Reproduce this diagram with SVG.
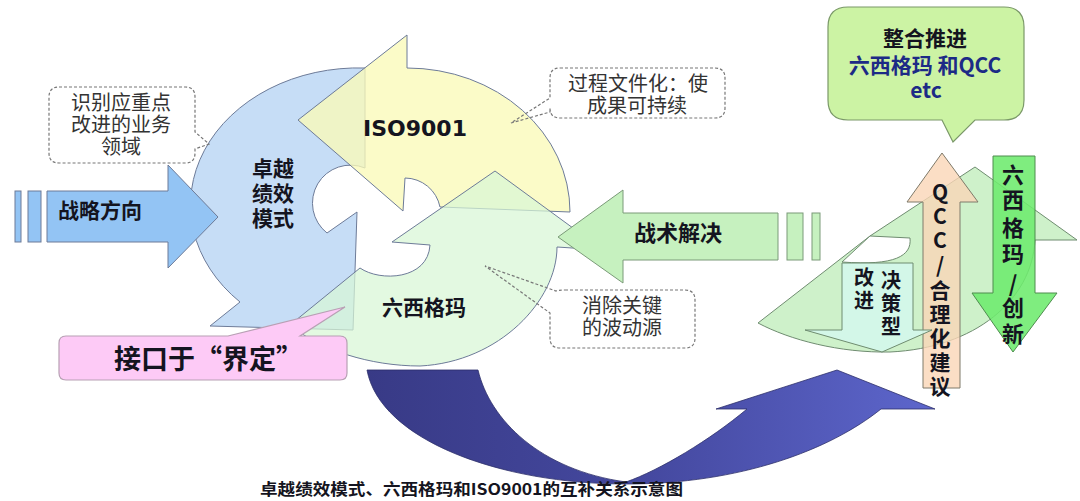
<svg xmlns="http://www.w3.org/2000/svg" width="1080" height="501" viewBox="0 0 1080 501">
<style>
.cjk{font-family:"Noto Sans CJK SC","Noto Sans",sans-serif}
.b{font-weight:bold}
.lbl{font-family:"Noto Sans CJK SC",sans-serif;font-weight:bold;fill:#141420}
.note{font-family:"Noto Sans CJK SC",sans-serif;font-size:20px;fill:#333;text-anchor:middle}
.dash{fill:none;stroke:#777;stroke-width:1.2;stroke-dasharray:3 2}
.edge{stroke:#6d7b98;stroke-width:1}
</style>
<defs>
<linearGradient id="navy" gradientUnits="userSpaceOnUse" x1="367" y1="0" x2="935" y2="0">
<stop offset="0" stop-color="#383a86"/>
<stop offset="0.5" stop-color="#4549a0"/>
<stop offset="1" stop-color="#5d66cc"/>
</linearGradient>
</defs>
<rect width="1080" height="501" fill="#fff"/>

<g id="connectors">
<path id="navy-arrow" d="M 367,370 L 478,370 C 490,420 540,470 626,482 C 660,470 710,440 747,409 L 716,409 L 837,370 L 935,409 L 881,409 C 830,450 740,484 626,484 C 500,484 380,440 367,370 Z" fill="url(#navy)" stroke="#2c2e6a" stroke-width="0.8"/>
</g>

<g id="excellence">
<path d="M 365,68 A 168 137 0 0 0 240,302 L 210,326 L 353,330 L 357,212 L 327,233 A 38 38 0 0 1 365,168 Z" fill="#c6ddf6" class="edge"/>
<text class="lbl" font-size="21" text-anchor="middle"><tspan x="273" y="176">卓越</tspan><tspan x="273" y="201">绩效</tspan><tspan x="273" y="226">模式</tspan></text>
</g>

<g id="iso9001">
<path d="M 298,120 L 407,35 L 407,68 A 163 144 0 0 1 570,212 L 440,207 A 36 36 0 0 0 405,178 L 403,211 Z" fill="#fafab8" fill-opacity="0.78" class="edge"/>
<text x="415" y="136" font-family="DejaVu Sans,sans-serif" font-weight="bold" font-size="22" fill="#141420" text-anchor="middle">ISO9001</text>
</g>

<g id="sixsigma">
<path d="M 392,242 L 495,171 L 603,250 L 557,247 C 557,300 500,362 420,366 C 370,366 320,350 290,325 L 360,268 C 380,282 428,280 430,245 Z" fill="#d8f6d6" fill-opacity="0.72" class="edge"/>
<text x="424" y="315" class="lbl" font-size="21" text-anchor="middle">六西格玛</text>
</g>

<g id="strategy">
<rect x="15" y="191" width="6" height="51" fill="#93c4f4" class="edge"/>
<rect x="28" y="191" width="13" height="51" fill="#93c4f4" class="edge"/>
<path d="M 47,191 L 168,191 L 168,165 L 218,217 L 168,268 L 168,242 L 47,242 Z" fill="#93c4f4" class="edge"/>
<text x="100" y="218" class="lbl" font-size="21" text-anchor="middle">战略方向</text>
</g>

<g id="tactics">
<path d="M 558,237 L 623,190 L 623,213 L 778,213 L 778,260 L 623,260 L 623,283 Z" fill="#c6f1bf" stroke="#7a9a78" stroke-width="1"/>
<rect x="787" y="213" width="16" height="47" fill="#c6f1bf" stroke="#7a9a78" stroke-width="1"/>
<rect x="812" y="213" width="8" height="47" fill="#c6f1bf" stroke="#7a9a78" stroke-width="1"/>
<text x="678" y="241" class="lbl" font-size="22" text-anchor="middle">战术解决</text>
</g>

<g id="note-identify">
<path class="dash" d="M 59,87 H 185 Q 195,87 195,97 V 132 L 209,144 L 195,149 V 153 Q 195,163 185,163 H 59 Q 49,163 49,153 V 97 Q 49,87 59,87 Z"/>
<text class="note"><tspan x="121" y="110">识别应重点</tspan><tspan x="121" y="132">改进的业务</tspan><tspan x="121" y="154">领域</tspan></text>
</g>

<g id="note-process">
<path class="dash" d="M 560,68 H 715 Q 725,68 725,78 V 108 Q 725,118 715,118 H 560 Q 550,118 550,108 V 112 L 511,123 L 550,98 V 78 Q 550,68 560,68 Z"/>
<text class="note"><tspan x="638" y="91">过程文件化：使</tspan><tspan x="637" y="113">成果可持续</tspan></text>
</g>

<g id="note-eliminate">
<path class="dash" d="M 565,290 H 685 Q 695,290 695,300 V 338 Q 695,348 685,348 H 560 Q 550,348 550,338 V 313 L 485,266 L 556,291 Q 558,290 565,290 Z"/>
<text class="note"><tspan x="622" y="313">消除关键</tspan><tspan x="622" y="335">的波动源</tspan></text>
</g>

<g id="note-interface">
<path d="M 66,336 H 228 L 345,307 L 300,336 H 340 Q 347,336 347,343 V 373 Q 347,380 340,380 H 66 Q 59,380 59,373 V 343 Q 59,336 66,336 Z" fill="#fdcaf6" stroke="#b8a0b4" stroke-width="1.2"/>
<text x="114" y="369" class="lbl" font-size="27">接口于“界定”</text>
</g>

<g id="right-cycle">
<path d="M 758,323 L 870,236 L 975,167 L 1077,240 L 1035,240 C 1032,300 975,348 890,352 C 840,353 790,340 758,323 Z" fill="#c6efc1" fill-opacity="0.85" stroke="#6f8c70" stroke-width="1"/>
<path d="M 870,236 L 910,238 C 912,256 895,266 842,262 Z" fill="#fff" stroke="#6f8c70" stroke-width="1"/>
</g>

<g id="qcc-arrow">
<path d="M 942,153 L 978,202 L 960,202 L 960,388 L 923,388 L 923,202 L 907,202 Z" fill="#fad6b6" fill-opacity="0.8" stroke="#7f7a6a" stroke-width="1"/>
<text class="lbl" font-size="21" text-anchor="middle"><tspan x="940" y="200">Q</tspan><tspan x="940" y="224">C</tspan><tspan x="940" y="248">C</tspan><tspan x="940" y="273">/</tspan><tspan x="940" y="298">合</tspan><tspan x="940" y="322">理</tspan><tspan x="940" y="346">化</tspan><tspan x="940" y="370">建</tspan><tspan x="940" y="394">议</tspan></text>
</g>

<g id="sigma-innovation-arrow">
<path d="M 993,156 L 1035,156 L 1035,293 L 1057,293 L 1013,352 L 972,293 L 993,293 Z" fill="#6dea6d" fill-opacity="0.88" stroke="#4f8c4f" stroke-width="1"/>
<text class="lbl" font-size="22" text-anchor="middle"><tspan x="1013" y="183">六</tspan><tspan x="1013" y="208">西</tspan><tspan x="1013" y="236">格</tspan><tspan x="1013" y="262">玛</tspan><tspan x="1013" y="292">/</tspan><tspan x="1013" y="316">创</tspan><tspan x="1013" y="342">新</tspan></text>
</g>

<g id="decision-arrow">
<path d="M 842,263 L 913,263 L 913,330 L 932,330 L 882,352 L 805,330 L 842,330 Z" fill="#d4f7ec" fill-opacity="0.88" stroke="#6f8c70" stroke-width="1"/>
<text class="lbl" font-size="20" text-anchor="middle"><tspan x="891" y="288">决</tspan><tspan x="891" y="311">策</tspan><tspan x="891" y="334">型</tspan></text>
<text class="lbl" font-size="20" text-anchor="middle"><tspan x="864" y="285">改</tspan><tspan x="864" y="308">进</tspan></text>
</g>

<g id="note-integrate">
<path d="M 848,7 H 1004 Q 1024,7 1024,27 V 100 Q 1024,120 1004,120 H 975 L 953,142 L 942,120 H 848 Q 828,120 828,100 V 27 Q 828,7 848,7 Z" fill="#ccf3a4" stroke="#7a9868" stroke-width="1.2"/>
<text x="925" y="46" class="lbl" font-size="21" text-anchor="middle">整合推进</text>
<text x="925" y="73" class="cjk b" font-size="21" fill="#1c2a86" text-anchor="middle">六西格玛 和QCC</text>
<text x="926" y="98" class="cjk b" font-size="21" fill="#1c2a86" text-anchor="middle">etc</text>
</g>

<text id="caption" x="260" y="495" class="lbl" font-size="16" textLength="423" lengthAdjust="spacingAndGlyphs">卓越绩效模式、六西格玛和ISO9001的互补关系示意图</text>
</svg>
